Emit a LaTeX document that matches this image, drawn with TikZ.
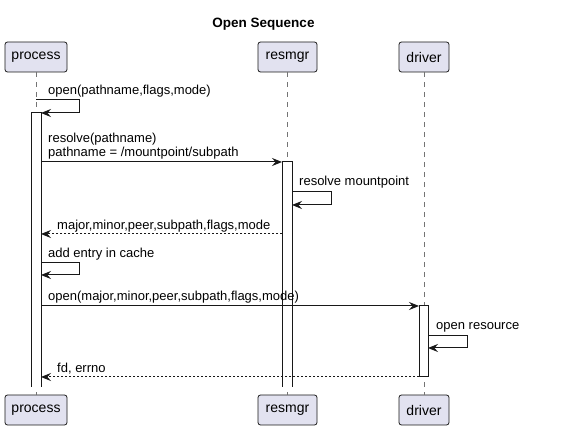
\documentclass[tikz,border=0pt]{standalone}
\usepackage{fontspec}
\setmainfont{Liberation Sans}
\usetikzlibrary{arrows.meta}
\definecolor{partfill}{HTML}{E2E2F0}
\definecolor{partline}{HTML}{181818}
\tikzset{
	part/.style={draw=partline, fill=partfill, rounded corners=2.5pt, minimum height=30pt, inner sep=0pt, line width=0.8pt, font=\fontsize{14}{16}\selectfont},
	lifeline/.style={draw=partline!60, dash pattern=on 5pt off 5pt, line width=0.6pt},
	actbox/.style={draw=partline, fill=white, line width=1pt},
	msg/.style={->, draw=partline, line width=1pt},
	reply/.style={->, draw=partline, line width=1pt, dash pattern=on 2pt off 2pt},
	lbl/.style={anchor=west, inner sep=0pt}
}
\begin{document}
\begin{tikzpicture}[x=1pt, y=-1pt, font=\fontsize{13}{15}\selectfont, line join=miter, >={Stealth[length=10pt,width=8pt,inset=3.5pt]}]
	\useasboundingbox (0,0) rectangle (563,430);
	\def\xP{36}	\def\xR{287}	\def\xD{424}
	\node[font=\bfseries\fontsize{13.5}{16}\selectfont] (title) at (263.5,24) {Open Sequence};
	% participants, top and bottom
	\node[part, minimum width=62pt] (proc) at (\xP,57) {process};
	\node[part, minimum width=59pt] (rmgr) at (\xR+0.5,57) {resmgr};
	\node[part, minimum width=50pt] (drv) at (\xD,57) {driver};
	\node[part, minimum width=62pt] (procB) at (\xP,410) {process};
	\node[part, minimum width=59pt] (rmgrB) at (\xR+0.5,410) {resmgr};
	\node[part, minimum width=50pt] (drvB) at (\xD,410) {driver};
	\draw[lifeline] (proc.south) -- (procB.north);
	\draw[lifeline] (rmgr.south) -- (rmgrB.north);
	\draw[lifeline] (drv.south) -- (drvB.north);
	% activations (the open ones run on to the end)
	\fill[white] (\xP-5,113) rectangle (\xP+5,387);
	\draw[actbox] (\xP-5,387) |- (\xP+5,113) -- (\xP+5,387);
	\fill[white] (\xR-5,162) rectangle (\xR+5,387);
	\draw[actbox] (\xR-5,387) |- (\xR+5,162) -- (\xR+5,387);
	\draw[actbox] (\xD-5,306) rectangle (\xD+4,377);
	% messages
	\coordinate (s1a) at (\xP,100);	\coordinate (s1b) at (\xP+5,113);
	\draw[msg] (s1a) -- ++(43,0) |- (s1b);
	\node[lbl] (l1) at (48,91) {open(pathname,flags,mode)};
	\coordinate (m2a) at (\xP+5,162);	\coordinate (m2b) at (\xR-5,162);
	\draw[msg] (m2a) -- (m2b);
	\node[lbl] (l2a) at (48,139) {resolve(pathname)};
	\node[lbl] (l2b) at (48,153) {pathname = /mountpoint/subpath};
	\coordinate (s3a) at (\xR+5,192);	\coordinate (s3b) at (\xR+5,205);
	\draw[msg] (s3a) -- ++(39,0) |- (s3b);
	\node[lbl] (l3) at (299,182) {resolve mountpoint};
	\coordinate (r4a) at (\xR-5,234);	\coordinate (r4b) at (\xP+5,234);
	\draw[reply] (r4a) -- (r4b);
	\node[lbl] (l4) at (57,226) {major,minor,peer,subpath,flags,mode};
	\coordinate (s5a) at (\xP+5,263);	\coordinate (s5b) at (\xP+5,275);
	\draw[msg] (s5a) -- ++(38,0) |- (s5b);
	\node[lbl] (l5) at (48,254) {add entry in cache};
	\coordinate (m6a) at (\xP+5,306);	\coordinate (m6b) at (\xD-5,306);
	\draw[msg] (m6a) -- (m6b);
	\node[lbl] (l6) at (48,297) {open(major,minor,peer,subpath,flags,mode)};
	\coordinate (s7a) at (\xD+4,336);	\coordinate (s7b) at (\xD+4,348);
	\draw[msg] (s7a) -- ++(39,0) |- (s7b);
	\node[lbl] (l7) at (436,327) {open resource};
	\coordinate (r8a) at (\xD-5,377);	\coordinate (r8b) at (\xP+5,377);
	\draw[reply] (r8a) -- (r8b);
	\node[lbl] (l8) at (57,369) {fd, errno};
\end{tikzpicture}
\end{document}
